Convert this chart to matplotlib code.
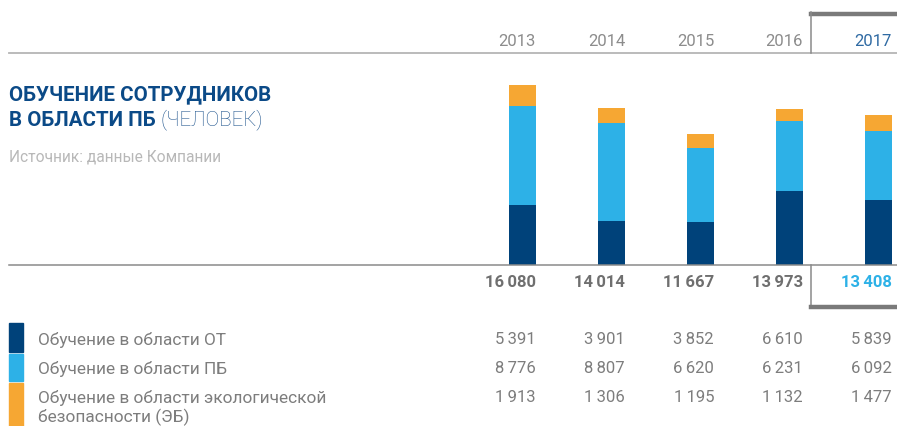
import matplotlib
matplotlib.use("Agg")
import matplotlib.pyplot as plt
from matplotlib.transforms import blended_transform_factory
from matplotlib.patches import Rectangle

plt.rcParams['font.family'] = ['Roboto', 'DejaVu Sans']

# data
years = ["2013", "2014", "2015", "2016", "2017"]
ot = [5391, 3901, 3852, 6610, 5839]
pb = [8776, 8807, 6620, 6231, 6092]
eb = [1913, 1306, 1195, 1132, 1477]
totals = [16080, 14014, 11667, 13973, 13408]
series_labels = ["Обучение в области ОТ",
                 "Обучение в области ПБ",
                 "Обучение в области экологической\nбезопасности (ЭБ)"]

NAVY = "#00427a"
SKY = "#2db1e7"
ORANGE = "#f6a733"
GREY_TXT = "#7d7d7d"
LINE = "#b5b5b5"
DARK = "#7a7a7a"

W, H = 897, 427
fig = plt.figure(figsize=(W / 100, H / 100), dpi=100)


def fy(px):
    return 1 - px / H


def fx(px):
    return px / W


def fmt(v):
    s = f"{v:,}".replace(",", "\u2009")
    return s


# bar axes: bottom at y=266px, top at y=60px
ax = fig.add_axes([0, fy(266), 1, (266 - 60) / H])
ax.set_xlim(-522.5 / 89, (W - 522.5) / 89)
ax.set_ylim(0, 206 / 0.01119)
ax.axis("off")

x = list(range(len(years)))
bw = 27 / 89
ax.bar(x, ot, width=bw, color=NAVY)
ax.bar(x, pb, width=bw, bottom=ot, color=SKY)
ax.bar(x, eb, width=bw, bottom=[a + b for a, b in zip(ot, pb)], color=ORANGE)

tr = blended_transform_factory(ax.transData, fig.transFigure)
right = [i + bw / 2 for i in x]

# year labels
for i, y in enumerate(years):
    c = "#2f6aa3" if i == len(years) - 1 else "#8c8c8c"
    ax.text(right[i], fy(42), y, transform=tr, ha="right", va="center",
            fontsize=12, color=c)

# totals
for i, t in enumerate(totals):
    c = SKY if i == len(years) - 1 else "#6f6f6f"
    ax.text(right[i], fy(283), fmt(t), transform=tr, ha="right", va="center",
            fontsize=12, fontweight="bold", color=c)

# table values
rows_y = [340, 369, 398]
for vals, yy in zip([ot, pb, eb], rows_y):
    for i, v in enumerate(vals):
        ax.text(right[i], fy(yy), fmt(v), transform=tr, ha="right",
                va="center", fontsize=12, color=GREY_TXT)

# horizontal rules
fig.add_artist(plt.Line2D([fx(9), 1], [fy(54), fy(54)], color=LINE, lw=1.3))
fig.add_artist(plt.Line2D([fx(9), 1], [fy(266), fy(266)], color="#8a8a8a", lw=1.1))

# highlight box for 2017
fig.add_artist(plt.Line2D([fx(810.5), 1], [fy(14.5), fy(14.5)], color=DARK, lw=3.2))
fig.add_artist(plt.Line2D([fx(811), fx(811)], [fy(12.5), fy(54)], color="#8a8a8a", lw=1.1))
fig.add_artist(plt.Line2D([fx(811), fx(811)], [fy(266), fy(308)], color="#8a8a8a", lw=1.1))
fig.add_artist(plt.Line2D([fx(810.5), 1], [fy(308), fy(308)], color=DARK, lw=3.2))

# title
fig.text(fx(9), fy(95), "ОБУЧЕНИЕ СОТРУДНИКОВ", fontsize=14.8,
         fontweight="bold", color="#0b4a87", va="center", ha="left")
t2 = fig.text(fx(9), fy(120), "В ОБЛАСТИ ПБ ", fontsize=14.8,
              fontweight="bold", color="#0b4a87", va="center", ha="left")
fig.canvas.draw()
bb = t2.get_window_extent()
fig.text(bb.x1 / W, fy(120), "(ЧЕЛОВЕК)", fontsize=14.8, fontweight="light",
         color="#1c528c", va="center", ha="left")
fig.text(fx(9), fy(157), "Источник: данные Компании", fontsize=11.2,
         color="#b8b8b8", va="center", ha="left")

# legend
leg_boxes = [(324, 353), (355, 382), (384, 427)]
for (y0, y1), c in zip(leg_boxes, [NAVY, SKY, ORANGE]):
    fig.add_artist(Rectangle((fx(9), fy(y1)), fx(14), (y1 - y0) / H,
                             color=c, transform=fig.transFigure))
label_y = [340, 369, 408]
for lab, yy in zip(series_labels, label_y):
    fig.text(fx(38), fy(yy), lab, fontsize=12.4, color=GREY_TXT, va="center",
             ha="left", linespacing=1.2)

fig.savefig("out.png", dpi=100)
